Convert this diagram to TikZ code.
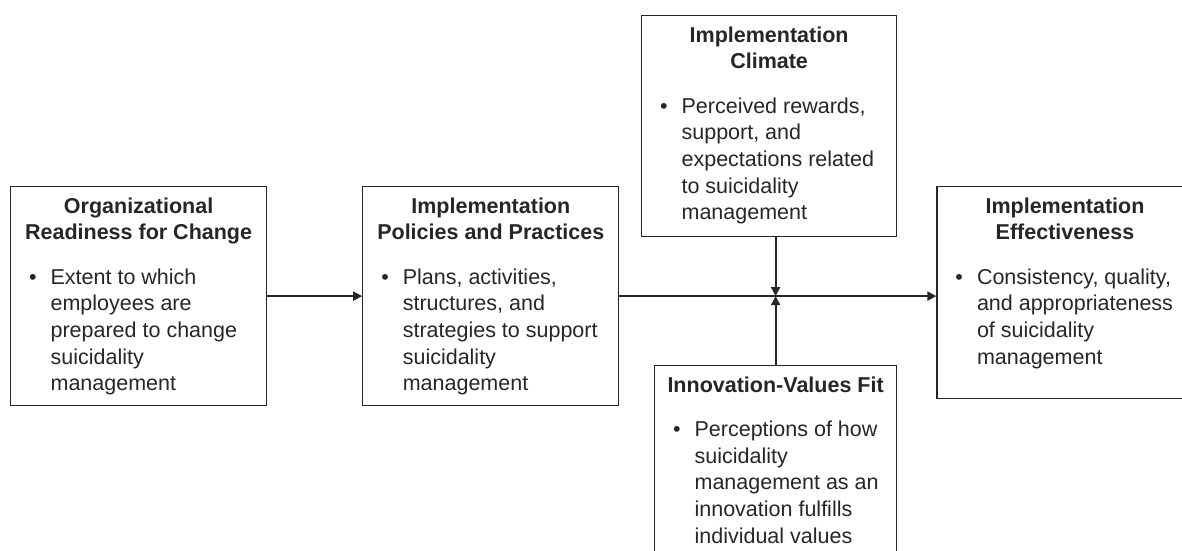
\documentclass[tikz,border=0pt]{standalone}
\usepackage{fontspec}
\setmainfont{Liberation Sans}
\usepackage{xcolor}
\usepackage{tikz}
\usetikzlibrary{arrows.meta,positioning}
\definecolor{ink}{HTML}{262626}
% box body: centred bold title, then one bullet with hanging lines
\newcommand{\factorbox}[4]{%
  \parbox[t][#2][t]{#1}{\centering\bfseries #3\par\vspace{17.5pt}%
  \raggedright\mdseries\leftskip=26pt\noindent\llap{\textbullet\hskip 14pt}#4\par}}
\tikzstyle{factor}=[rectangle, draw=ink, line width=1.2pt, text=ink,
  inner xsep=14pt, inner ysep=11pt, anchor=north west,
  font=\fontsize{21.5pt}{26.7pt}\selectfont]
\tikzstyle{arrow}=[-{Triangle[length=9pt,width=9pt]}, line width=1.8pt, draw=ink]

\begin{document}
\begin{tikzpicture}[x=1pt, y=1pt, node distance=95pt]
\useasboundingbox (0,0) rectangle (1182,550);
\clip (0,0) rectangle (1182,550);
\node (ready) [factor] at (10,364)
  {\factorbox{228pt}{197pt}{Organizational\\Readiness for Change}
   {Extent to which\\employees are\\prepared to change\\suicidality\\management}};
\node (policy) [factor, right=of ready]
  {\factorbox{228pt}{197pt}{Implementation\\Policies and Practices}
   {Plans, activities,\\structures, and\\strategies to support\\suicidality\\management}};
\node (effect) [factor, right=317pt of policy.north east, anchor=north west]
  {\factorbox{228pt}{190pt}{Implementation\\Effectiveness}
   {Consistency, quality,\\and appropriateness\\of suicidality\\management}};
\node (climate) [factor] at (641,535)
  {\factorbox{227pt}{199pt}{Implementation\\Climate}
   {Perceived rewards,\\support, and\\expectations related\\to suicidality\\management}};
\node (fit) [factor] at (654,185)
  {\factorbox{214pt}{200pt}{\makebox[\linewidth]{Innovation-Values Fit}}
   {Perceptions of how\\suicidality\\management as an\\innovation fulfills\\individual values}};
\coordinate (junc) at (policy.east -| fit.north);
\draw[arrow] (ready) -- (policy);
\draw[arrow] (policy.east) -- (policy.east -| effect.west);
\draw[arrow] (climate.south -| fit.north) -- (junc);
\draw[arrow] (fit.north) -- (junc);
\end{tikzpicture}
\end{document}
